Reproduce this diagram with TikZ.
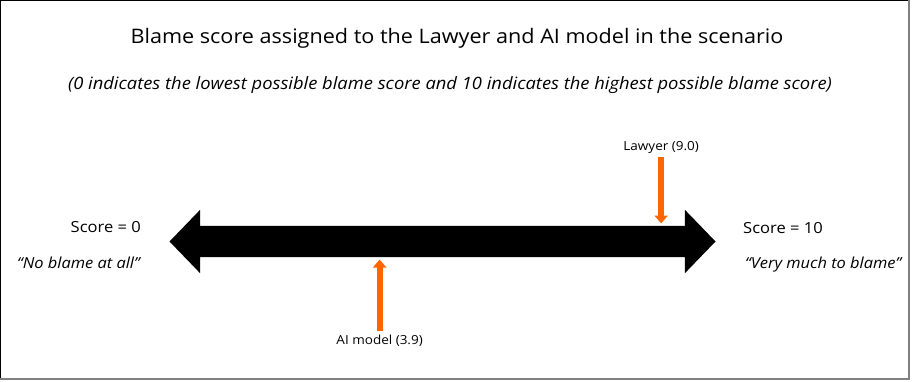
\documentclass[tikz,border=0pt]{standalone}
\usepackage{fontspec}
\setmainfont[FakeStretch=1.08]{Open Sans}
\usetikzlibrary{arrows.meta,shapes.arrows,calc}
\definecolor{blameorange}{RGB}{255,102,0}
\definecolor{framegray}{RGB}{128,128,128}
\tikzset{
    heading/.style={font=\fontsize{20}{23}\selectfont},
    subheading/.style={font=\fontsize{17}{20}\selectfont\itshape},
    scorelabel/.style={font=\fontsize{15.3}{17}\selectfont},
    quote/.style={font=\fontsize{15.2}{17}\selectfont\itshape},
    agent/.style={font=\fontsize{12.5}{14}\selectfont},
    pointer/.style={draw=blameorange, line width=6pt, -{Triangle[width=13pt,length=8pt]}}
}

\begin{document}
\begin{tikzpicture}
  [
    x                 = 1pt,
    y                 = -1pt,
    every node/.style = {inner sep=0pt},
  ]
  \useasboundingbox (0,0) rectangle (912,381);
  \draw [black, line width=1pt] (0.5,379) -- (0.5,0.5) -- (909,0.5);
  \draw [framegray, line width=2pt] (909,0) -- (909,379) -- (0,379);

  \node (title) [heading, anchor=base] at (457,43.3) {Blame score assigned to the Lawyer and AI model in the scenario};
  \node (subtitle) [subheading, anchor=base] at (450,89) {(0 indicates the lowest possible blame score and 10 indicates the highest possible blame score)};

  \node (scale) [double arrow, fill=black, inner xsep=0pt, inner ysep=15.5pt, minimum height=546pt,
    double arrow head extend=16pt, double arrow tip angle=92] at (442.5,241.5) {};

  \node (low) [scorelabel, anchor=base east] at (141,232.5) {Score = 0};
  \node (lowquote) [quote, anchor=base east] at (140,268) {“No blame at all”};
  \node (high) [scorelabel, anchor=base west] at (743,233) {Score = 10};
  \node (highquote) [quote, anchor=base west] at (745,268) {“Very much to blame”};

  \coordinate (lawyertip) at ($(scale.west)!0.9!(scale.east)+(0,-18)$);
  \coordinate (aitip) at ($(scale.west)!0.385!(scale.east)+(0,18)$);
  \node (lawyer) [agent, anchor=base] at ($(lawyertip)+(0,-73.5)$) {Lawyer (9.0)};
  \node (ai) [agent, anchor=base] at ($(aitip)+(0,85)$) {AI model (3.9)};
  \draw [pointer] ([yshift=-4pt]lawyer.south) -- (lawyertip);
  \draw [pointer] ([yshift=4pt]ai.north) -- (aitip);
\end{tikzpicture}
\end{document}
